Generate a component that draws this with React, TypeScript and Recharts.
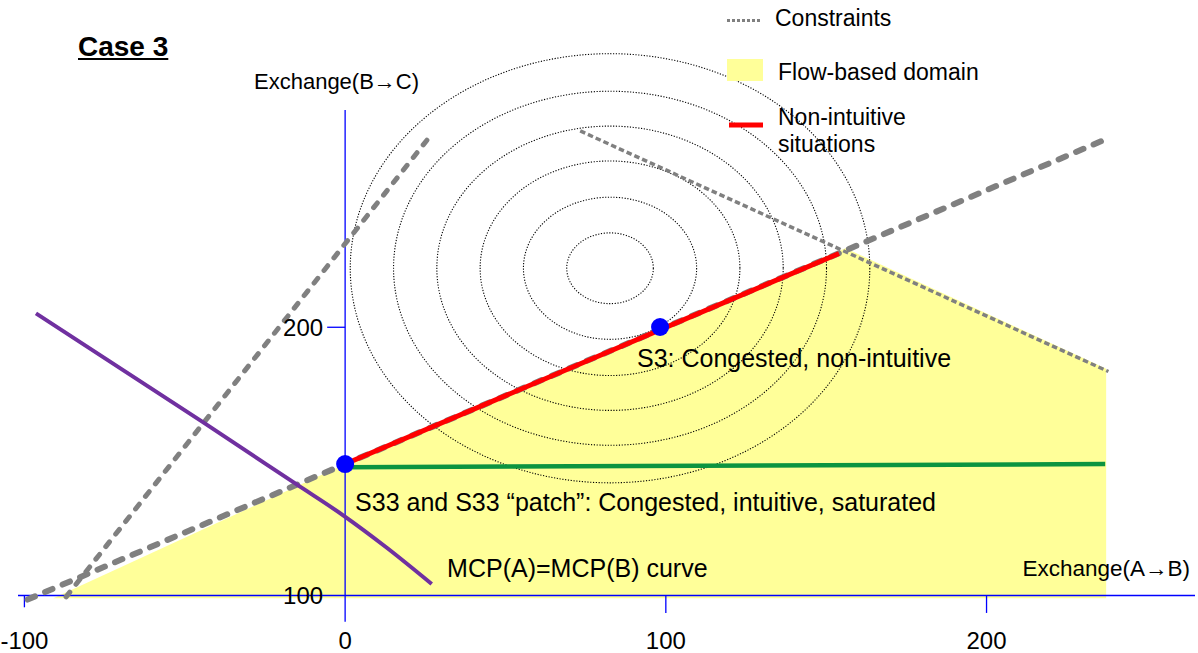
import React from "react";
import {
  ComposedChart,
  XAxis,
  YAxis,
  Line,
  Area,
  Scatter,
  ReferenceLine,
  ReferenceArea,
  ReferenceDot,
} from "recharts";

const W = 1198;
const H = 653;
const FONT = "'Liberation Sans', Arial, sans-serif";

const xTicks = [-100, 0, 100, 200];
const yTicks = [100, 200];

// flow-based domain, upper edge (closed down to domainBase)
const flowDomain = [
  { x: -91, y: 99 },
  { x: 0, y: 149 },
  { x: 156, y: 229.5 },
  { x: 237.3, y: 184.5 },
];
const domainBase = 99;

// constraints
const constraintSteep = [
  { x: -87, y: 99.5 },
  { x: 26, y: 270.5 },
];
const constraintRising = [
  { x: -99, y: 98.5 },
  { x: 0, y: 149 },
  { x: 237, y: 270 },
];
const constraintFalling = [
  { x: 73.3, y: 273.2 },
  { x: 238, y: 183.5 },
];

const nonIntuitive = [
  { x: 0, y: 149 },
  { x: 154, y: 227.5 },
];
const saturated = [
  { x: 0, y: 147.8 },
  { x: 237, y: 149 },
];
const mcpCurve = [
  { x: -96.4, y: 205.2 },
  { x: -44.7, y: 164.9 },
  { x: -15.1, y: 141.4 },
  { x: -0.5, y: 129.8 },
  { x: 13, y: 117.8 },
  { x: 27, y: 104.3 },
];
const solutions = [
  { x: 0, y: 149 },
  { x: 98.2, y: 200.1 },
];

// welfare iso-lines (ellipses around the optimum)
const welfareCenter = { x: 82.6, y: 222 };
const welfareRx = [13.5, 27, 40.5, 54, 67.5, 81];
const welfareRy = [13.2, 26.5, 40, 53, 66, 80];

const notes = [
  { x: 91, y: 188.4, text: "S3: Congested, non-intuitive" },
  { x: 3.1, y: 134.7, text: "S33 and S33 \u201cpatch\u201d: Congested, intuitive, saturated" },
  { x: 31.8, y: 110.3, text: "MCP(A)=MCP(B) curve" },
];

const AXIS = "#0000ff";
const GREY = "#808080";

const Ellipse = (p: any) => (
  <ellipse
    cx={p.x + p.width / 2}
    cy={p.y + p.height / 2}
    rx={Math.abs(p.width) / 2}
    ry={Math.abs(p.height) / 2}
    fill="none"
    stroke="#000"
    strokeWidth={1.1}
    strokeDasharray="1.2 1.6"
  />
);

const Dot = (p: any) => <circle cx={p.cx} cy={p.cy} r={9} fill="#0000ff" />;

const txt = (top: number, left: number, size: number, extra: React.CSSProperties = {}) =>
  ({
    position: "absolute",
    top,
    left,
    fontSize: size,
    lineHeight: 1,
    whiteSpace: "nowrap",
    color: "#000",
    ...extra,
  }) as React.CSSProperties;

export default function App() {
  return (
    <div
      style={{
        position: "absolute",
        left: 0,
        top: 0,
        width: W,
        height: H,
        background: "#fff",
        fontFamily: FONT,
      }}
    >
      <ComposedChart width={W} height={H} margin={{ top: 110, right: 3, bottom: 0, left: 18 }}>
        <XAxis
          type="number"
          dataKey="x"
          domain={[-102, 265]}
          allowDataOverflow
          ticks={xTicks}
          axisLine={false}
          tickLine={false}
          tickSize={5}
          tickMargin={2}
          height={28}
          tick={{ fill: "#000", fontSize: 24 }}
        />
        <YAxis type="number" domain={[89, 281]} allowDataOverflow hide />

        <Area
          data={flowDomain}
          dataKey="y"
          type="linear"
          baseValue={domainBase}
          fill="#ffff99"
          fillOpacity={1}
          stroke="none"
          isAnimationActive={false}
        />

        {/* axes drawn through the origin */}
        <ReferenceLine y={100} stroke={AXIS} strokeWidth={1.3} />
        <ReferenceLine
          segment={[
            { x: 0, y: 90.2 },
            { x: 0, y: 281 },
          ]}
          stroke={AXIS}
          strokeWidth={1.3}
        />
        {xTicks
          .filter((t) => t !== 0)
          .map((t) => (
            <ReferenceLine
              key={t}
              segment={[
                { x: t, y: 100 },
                { x: t, y: t < 0 ? 95.6 : 93.5 },
              ]}
              stroke={AXIS}
              strokeWidth={1.3}
            />
          ))}
        <ReferenceLine
          segment={[
            { x: -5.6, y: 200 },
            { x: 0, y: 200 },
          ]}
          stroke={AXIS}
          strokeWidth={1.3}
        />
        {yTicks.map((t) => (
          <ReferenceDot
            key={t}
            x={-5.6}
            y={t}
            r={0}
            fill="none"
            stroke="none"
            label={{ value: String(t), position: "left", offset: 4, fontSize: 24, fill: "#000" }}
          />
        ))}

        {welfareRx.map((rx, i) => (
          <ReferenceArea
            key={i}
            x1={welfareCenter.x - rx}
            x2={welfareCenter.x + rx}
            y1={welfareCenter.y - welfareRy[i]}
            y2={welfareCenter.y + welfareRy[i]}
            ifOverflow="visible"
            shape={Ellipse}
          />
        ))}

        <Line
          data={constraintSteep}
          dataKey="y"
          type="linear"
          stroke={GREY}
          strokeWidth={5}
          strokeDasharray="6 10"
          strokeLinecap="round"
          dot={false}
          activeDot={false}
          isAnimationActive={false}
        />
        <Line
          data={constraintRising}
          dataKey="y"
          type="linear"
          stroke={GREY}
          strokeWidth={6}
          strokeDasharray="8 11"
          strokeLinecap="round"
          dot={false}
          activeDot={false}
          isAnimationActive={false}
        />
        <Line
          data={constraintFalling}
          dataKey="y"
          type="linear"
          stroke={GREY}
          strokeWidth={3.5}
          strokeDasharray="5.5 3"
          dot={false}
          activeDot={false}
          isAnimationActive={false}
        />
        <Line
          data={saturated}
          dataKey="y"
          type="linear"
          stroke="#0c9440"
          strokeWidth={4.5}
          dot={false}
          activeDot={false}
          isAnimationActive={false}
        />
        <Line
          data={nonIntuitive}
          dataKey="y"
          type="linear"
          stroke="#ff0000"
          strokeWidth={5}
          dot={false}
          activeDot={false}
          isAnimationActive={false}
        />
        <Line
          data={mcpCurve}
          dataKey="y"
          type="monotone"
          stroke="#7030a0"
          strokeWidth={4}
          dot={false}
          activeDot={false}
          isAnimationActive={false}
        />
        <Scatter data={solutions} dataKey="y" shape={Dot} isAnimationActive={false} />

        {notes.map((n) => (
          <ReferenceDot
            key={n.text}
            x={n.x}
            y={n.y}
            r={0}
            fill="none"
            stroke="none"
            label={{ value: n.text, position: "right", offset: 0, fontSize: 25, fill: "#000" }}
          />
        ))}
      </ComposedChart>

      <div style={txt(32.6, 78, 28, { fontWeight: "bold", textDecoration: "underline" })}>Case 3</div>
      <div style={txt(71, 254, 22)}>Exchange(B→C)</div>
      <div style={txt(558, 0, 22.5, { left: "auto", right: 8 })}>Exchange(A→B)</div>

      {/* legend */}
      <svg style={{ position: "absolute", left: 720, top: 0 }} width={50} height={140}>
        <line x1={7} y1={20.5} x2={40} y2={20.5} stroke={GREY} strokeWidth={3} strokeDasharray="3 2" />
        <rect x={7} y={59} width={36} height={22} fill="#ffff99" />
        <line x1={9} y1={125} x2={43} y2={125} stroke="#ff0000" strokeWidth={5} />
      </svg>
      <div style={txt(6.5, 775, 23)}>Constraints</div>
      <div style={txt(60.5, 778, 23)}>Flow-based domain</div>
      <div style={txt(106.2, 778, 23)}>Non-intuitive</div>
      <div style={txt(133.2, 778, 23)}>situations</div>
    </div>
  );
}
